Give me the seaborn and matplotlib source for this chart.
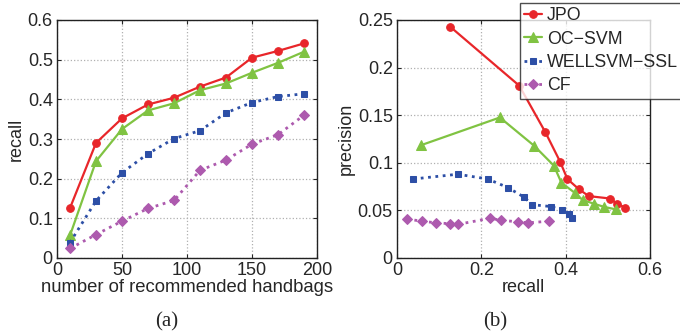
import pandas as pd
import seaborn as sns
import matplotlib.pyplot as plt

# dados
n_handbags = [10, 30, 50, 70, 90, 110, 130, 150, 170, 190]
methods = ['JPO', 'OC\u2212SVM', 'WELLSVM\u2212SSL', 'CF']

recall_jpo = [0.126, 0.290, 0.352, 0.387, 0.404, 0.432, 0.455, 0.505, 0.522, 0.541]
recall_ocsvm = [0.057, 0.244, 0.325, 0.372, 0.390, 0.423, 0.440, 0.467, 0.492, 0.520]
recall_wellsvm = [0.039, 0.144, 0.215, 0.263, 0.301, 0.321, 0.366, 0.392, 0.407, 0.414]
recall_cf = [0.024, 0.059, 0.093, 0.125, 0.145, 0.221, 0.247, 0.287, 0.311, 0.360]

prec_jpo = [0.243, 0.181, 0.132, 0.101, 0.083, 0.072, 0.065, 0.0625, 0.057, 0.053]
prec_ocsvm = [0.1185, 0.1476, 0.118, 0.097, 0.079, 0.068, 0.061, 0.057, 0.0536, 0.051]
prec_wellsvm = [0.083, 0.088, 0.083, 0.074, 0.064, 0.056, 0.054, 0.050, 0.0466, 0.042]
prec_cf = [0.041, 0.0386, 0.037, 0.036, 0.0354, 0.0417, 0.0396, 0.038, 0.037, 0.0386]

recalls = [recall_jpo, recall_ocsvm, recall_wellsvm, recall_cf]
precs = [prec_jpo, prec_ocsvm, prec_wellsvm, prec_cf]

cores = ['#e8262a', '#80c342', '#2d4fa6', '#ad5aae']
marcadores = ['o', '^', 's', 'D']
tamanhos = [5.5, 6.5, 5, 5]
estilos = ['-', '-', ':', ':']
larguras = [1.6, 1.6, 2.0, 2.0]

sns.set_style('white')
plt.rcParams['font.family'] = ['Liberation Sans', 'DejaVu Sans']

fig = plt.figure(figsize=(6.8, 3.34), dpi=100)
ax1 = fig.add_axes([57 / 680, 76 / 334, 260 / 680, 238 / 334])
ax2 = fig.add_axes([397 / 680, 76 / 334, 253 / 680, 238 / 334])

for i, nome in enumerate(methods):
    df_a = pd.DataFrame({'x': n_handbags, 'y': recalls[i]})
    sns.lineplot(data=df_a, x='x', y='y', ax=ax1, color=cores[i],
                 marker=marcadores[i], markersize=tamanhos[i],
                 markeredgecolor=cores[i], linestyle=estilos[i],
                 linewidth=larguras[i], sort=False)
    df_b = pd.DataFrame({'x': recalls[i], 'y': precs[i]})
    sns.lineplot(data=df_b, x='x', y='y', ax=ax2, color=cores[i],
                 marker=marcadores[i], markersize=tamanhos[i],
                 markeredgecolor=cores[i], linestyle=estilos[i],
                 linewidth=larguras[i], sort=False, label=nome)

ax1.set_xlim(0, 200)
ax1.set_ylim(0, 0.6)
ax1.set_xticks([0, 50, 100, 150, 200])
ax1.set_yticks([0, 0.1, 0.2, 0.3, 0.4, 0.5, 0.6])
ax1.set_yticklabels(['0', '0.1', '0.2', '0.3', '0.4', '0.5', '0.6'])
ax1.set_xlabel('number of recommended handbags', fontsize=13.3, labelpad=0)
ax1.set_ylabel('recall', fontsize=13, labelpad=2)

ax2.set_xlim(0, 0.6)
ax2.set_ylim(0, 0.25)
ax2.set_xticks([0, 0.2, 0.4, 0.6])
ax2.set_xticklabels(['0', '0.2', '0.4', '0.6'])
ax2.set_yticks([0, 0.05, 0.1, 0.15, 0.2, 0.25])
ax2.set_yticklabels(['0', '0.05', '0.1', '0.15', '0.2', '0.25'])
ax2.set_xlabel('recall', fontsize=13, labelpad=0)
ax2.set_ylabel('precision', fontsize=13, labelpad=2)

for ax in (ax1, ax2):
    ax.grid(True, linestyle=':', color='#b0b0b0', linewidth=0.9)
    ax.tick_params(direction='in', length=3, width=0.8, labelsize=13,
                   pad=3, top=True, right=True, bottom=True, left=True)
    for s in ax.spines.values():
        s.set_color('#222222')
        s.set_linewidth(1.0)

# legenda no canto superior direito da figura
ax2.get_legend().remove()
h, l = ax2.get_legend_handles_labels()
leg = fig.legend(h, l, loc='upper left', bbox_to_anchor=(520 / 680, 1 - 3 / 334),
                 fontsize=12.8, frameon=True, fancybox=False, handlelength=1.0,
                 handletextpad=0.25, borderpad=0.25, labelspacing=0.35,
                 borderaxespad=0)
leg.get_frame().set_edgecolor('#222222')
leg.get_frame().set_linewidth(1.0)

fig.text(167 / 680, 1 - 322 / 334, '(a)', ha='center', va='center',
         fontsize=15, family='Liberation Serif')
fig.text(495 / 680, 1 - 322 / 334, '(b)', ha='center', va='center',
         fontsize=15, family='Liberation Serif')

plt.savefig('out.png', dpi=100)
